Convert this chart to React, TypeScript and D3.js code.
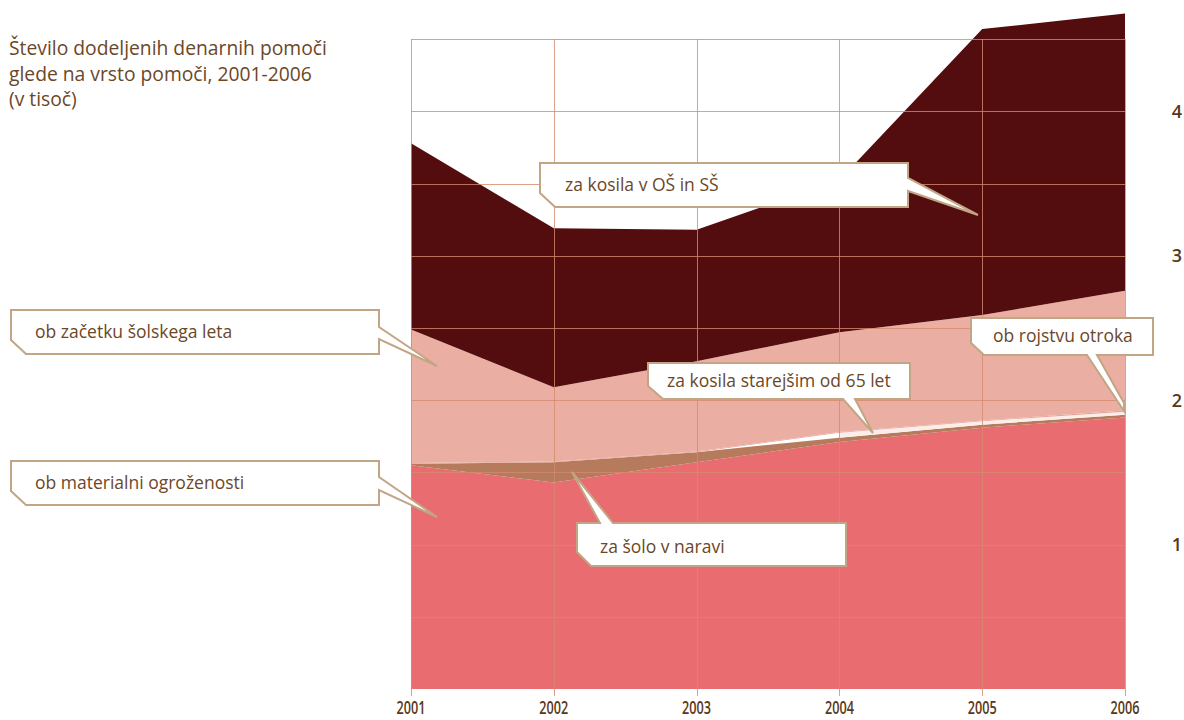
import React from "react";
import * as d3 from "d3";

const years = [2001, 2002, 2003, 2004, 2005, 2006];
const seriesKeys = [
  "ob materialni ogroženosti",
  "za šolo v naravi",
  "za kosila starejšim od 65 let",
  "ob rojstvu otroka",
  "ob začetku šolskega leta",
  "za kosila v OŠ in SŠ",
];
const materialni = [1.55, 1.43, 1.57, 1.71, 1.81, 1.88];
const soloVNaravi = [0.01, 0.14, 0.07, 0.03, 0.02, 0.02];
const kosilaStarejsim: (number | null)[] = [null, null, null, 0.035, 0.025, 0.02];
const rojstvo = [0.005, 0.005, 0.005, 0.005, 0.005, 0.008];
const zacetek = [0.925, 0.515, 0.625, 0.69, 0.73, 0.83];
const kosilaOS = [1.29, 1.1, 0.91, 1.055, 1.98, 1.92];
const yTicks = [1, 2, 3, 4];
const gridValues = [0.5, 1, 1.5, 2, 2.5, 3, 3.5, 4, 4.5];
const colors = ["#E96C70", "#B57B5C", "#FCEDEA", "#E6A597", "#EBAEA2", "#530D0E"];

const titleLines = ["Število dodeljenih denarnih pomoči", "glede na vrsto pomoči, 2001-2006", "(v tisoč)"];

type Callout = { text: string; pts: [number, number][]; tx: number; ty: number };
const callouts: Callout[] = [
  { text: "za kosila v OŠ in SŠ", tx: 565, ty: 191,
    pts: [[540, 163], [908, 163], [908, 178], [978, 215], [908, 191], [908, 207], [555, 207], [540, 193]] },
  { text: "ob začetku šolskega leta", tx: 35, ty: 338,
    pts: [[11, 310], [379, 310], [379, 327], [437, 366], [379, 339], [379, 354], [26, 354], [11, 340]] },
  { text: "ob materialni ogroženosti", tx: 35, ty: 489,
    pts: [[11, 461], [379, 461], [379, 477], [437, 517], [379, 490], [379, 505], [26, 505], [11, 491]] },
  { text: "za šolo v naravi", tx: 600, ty: 553,
    pts: [[577, 523], [600, 523], [572, 472], [613, 523], [846, 523], [846, 566], [591, 566], [577, 552]] },
  { text: "za kosila starejšim od 65 let", tx: 667, ty: 387,
    pts: [[648, 363], [910, 363], [910, 399], [855, 399], [873, 433], [843, 399], [663, 399], [648, 386]] },
  { text: "ob rojstvu otroka", tx: 993, ty: 342,
    pts: [[971, 318], [1153, 318], [1153, 355], [1097, 355], [1124, 403], [1124, 411], [1087, 355], [984, 355], [971, 343]] },
];

export default function App() {
  const x = d3.scaleLinear().domain([2001, 2006]).range([411, 1125]);
  const y = d3.scaleLinear().domain([0, 4.5]).range([689, 39.2]);

  const rows = years.map((yr, i) => ({
    year: yr,
    [seriesKeys[0]]: materialni[i],
    [seriesKeys[1]]: soloVNaravi[i],
    [seriesKeys[2]]: kosilaStarejsim[i] ?? 0,
    [seriesKeys[3]]: rojstvo[i],
    [seriesKeys[4]]: zacetek[i],
    [seriesKeys[5]]: kosilaOS[i],
  }));
  const stacked = d3.stack<any>().keys(seriesKeys)(rows);

  const makeArea = (k: number) =>
    d3.area<any>()
      .defined((_d, i) => (k === 2 ? kosilaStarejsim[i] !== null : true))
      .x((d) => x(d.data.year))
      .y0((d) => y(d[0]))
      .y1((d) => y(d[1]));

  const gridColor = "#D48A6E";
  const textColor = "#6B4728";
  const axisColor = "#5A3718";

  return (
    <svg width={1184} height={720} style={{ position: "absolute", left: 0, top: 0, display: "block" }}
      fontFamily="'Open Sans', 'Noto Sans', sans-serif">
      <rect width={1184} height={720} fill="#ffffff" />
      {stacked.map((s, k) => (
        <path key={s.key} d={makeArea(k)(s as any) || ""} fill={colors[k]} />
      ))}
      <g stroke={gridColor} strokeOpacity={0.8} strokeWidth={1}>
        {gridValues.map((v) => (
          <line key={"h" + v} x1={x(2001)} x2={x(2006)} y1={Math.round(y(v)) + 0.5} y2={Math.round(y(v)) + 0.5} />
        ))}
        {years.map((yr) => (
          <line key={"v" + yr} x1={Math.round(x(yr)) + 0.5} x2={Math.round(x(yr)) + 0.5} y1={y(4.5)} y2={y(0) + 7} />
        ))}
      </g>
      {years.map((yr) => (
        <text key={"xl" + yr} x={x(yr)} y={714} textAnchor="middle" fontSize={18.8} fontWeight={600}
          fill={axisColor} textLength={29} lengthAdjust="spacingAndGlyphs">{yr}</text>
      ))}
      {yTicks.map((t) => (
        <text key={"yl" + t} x={1177} y={y(t) + 6.5} textAnchor="middle" fontSize={18} fontWeight={600}
          fill={axisColor}>{t}</text>
      ))}
      {titleLines.map((l, i) => (
        <text key={"t" + i} x={9} y={55 + i * 25.5} fontSize={19.3} fill={textColor}>{l}</text>
      ))}
      {callouts.map((c) => (
        <g key={c.text}>
          <path d={"M" + c.pts.map((p) => p.join(",")).join("L") + "Z"} fill="#ffffff" stroke="#C2A584" strokeWidth={2} strokeLinejoin="miter" />
          <text x={c.tx} y={c.ty} fontSize={17.5} fill={textColor}>{c.text}</text>
        </g>
      ))}
    </svg>
  );
}
